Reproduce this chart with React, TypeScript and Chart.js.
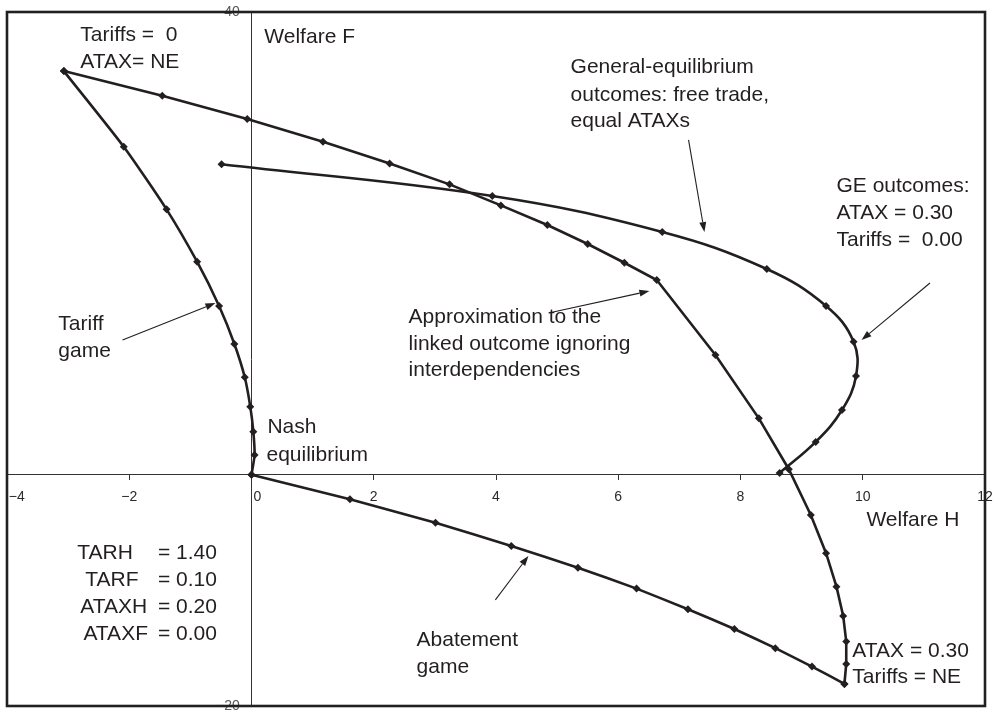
import React, { useEffect, useRef } from "react";
import { Chart, registerables } from "chart.js";

Chart.register(...registerables);

// ---- data (Welfare H, Welfare F) ----
const tariffGame: [number, number][] = [
  [0, 0], [0.05, 1.7], [0.03, 3.72], [-0.02, 5.88], [-0.11, 8.42], [-0.28, 11.3],
  [-0.53, 14.58], [-0.89, 18.41], [-1.39, 22.94], [-2.09, 28.35], [-3.07, 34.89],
];
const approximationLinked: [number, number][] = [
  [-3.07, 34.89], [-1.46, 32.76], [-0.07, 30.74], [1.17, 28.78], [2.26, 26.91],
  [3.24, 25.1], [4.08, 23.28], [4.84, 21.58], [5.5, 19.94], [6.1, 18.32],
  [6.63, 16.83], [7.59, 10.35], [8.3, 4.87], [8.79, 0.47], [9.15, -3.48],
  [9.4, -6.79], [9.57, -9.68], [9.68, -12.21], [9.73, -14.43], [9.73, -16.36], [9.7, -18.09],
];
const abatementGame: [number, number][] = [
  [0, 0], [1.61, -2.13], [3.01, -4.15], [4.25, -6.16], [5.34, -8.04], [6.3, -9.85],
  [7.14, -11.63], [7.9, -13.34], [8.57, -15.0], [9.17, -16.59], [9.7, -18.09],
];
const geOutcomes: [number, number][] = [
  [-0.49, 26.83], [3.94, 24.09], [6.72, 20.98], [8.43, 17.78], [9.4, 14.58],
  [9.85, 11.5], [9.89, 8.53], [9.66, 5.59], [9.23, 2.83], [8.64, 0.15],
];

const X_MIN = -4, X_MAX = 12, X_STEP = 2;
const Y_MIN = -20, Y_MAX = 40;

// text annotations: [text, x, y] in data units (left-aligned, vertically centred)
const labels: [string, number, number][] = [
  ["Tariffs =  0", -2.8, 38.0],
  ["ATAX= NE", -2.8, 35.67],
  ["Welfare F", 0.21, 37.8],
  ["General-equilibrium", 5.22, 35.2],
  ["outcomes: free trade,", 5.22, 32.8],
  ["equal ATAXs", 5.22, 30.6],
  ["GE outcomes:", 9.57, 24.95],
  ["ATAX = 0.30", 9.57, 22.6],
  ["Tariffs =  0.00", 9.57, 20.3],
  ["Tariff", -3.16, 13.0],
  ["game", -3.16, 10.7],
  ["Approximation to the", 2.57, 13.63],
  ["linked outcome ignoring", 2.57, 11.3],
  ["interdependencies", 2.57, 9.05],
  ["Nash", 0.26, 4.12],
  ["equilibrium", 0.245, 1.7],
  ["Welfare H", 10.06, -3.92],
  ["TARH", -2.85, -6.78],
  ["TARF", -2.72, -9.11],
  ["ATAXH", -2.80, -11.45],
  ["ATAXF", -2.75, -13.78],
  ["= 1.40", -1.53, -6.78],
  ["= 0.10", -1.53, -9.11],
  ["= 0.20", -1.53, -11.45],
  ["= 0.00", -1.53, -13.78],
  ["Abatement", 2.7, -14.29],
  ["game", 2.7, -16.62],
  ["ATAX = 0.30", 9.83, -15.24],
  ["Tariffs = NE", 9.83, -17.49],
];

// arrows: [fromX, fromY, toX, toY] in data units
const arrows: [number, number, number, number][] = [
  [7.15, 28.94, 7.41, 20.97],
  [11.1, 16.57, 9.98, 11.64],
  [-2.11, 11.64, -0.59, 14.84],
  [4.86, 13.98, 6.51, 15.88],
  [3.99, -10.83, 4.53, -7.03],
];

const INK = "#231f20";
const FONT = '"Liberation Sans", Arial, Helvetica, sans-serif';

const annotationPlugin = {
  id: "annotations",
  afterDraw(chart: any) {
    const { ctx, chartArea, scales } = chart;
    const xs = scales.x, ys = scales.y;
    ctx.save();
    ctx.fillStyle = INK;
    ctx.font = `21px ${FONT}`;
    ctx.textBaseline = "middle";
    ctx.textAlign = "left";
    for (const [t, x, y] of labels) {
      ctx.fillText(t, xs.getPixelForValue(x), ys.getPixelForValue(y));
    }
    ctx.strokeStyle = INK;
    ctx.lineWidth = 1.1;
    for (const [fx, fy, tx, ty] of arrows) {
      const x1 = xs.getPixelForValue(fx), y1 = ys.getPixelForValue(fy);
      const x2 = xs.getPixelForValue(tx), y2 = ys.getPixelForValue(ty);
      const ang = Math.atan2(y2 - y1, x2 - x1);
      const hl = 10, hw = 3.5;
      const bx = x2 - hl * Math.cos(ang), by = y2 - hl * Math.sin(ang);
      ctx.beginPath();
      ctx.moveTo(x1, y1);
      ctx.lineTo(bx, by);
      ctx.stroke();
      ctx.beginPath();
      ctx.moveTo(x2, y2);
      ctx.lineTo(bx + hw * Math.sin(ang), by - hw * Math.cos(ang));
      ctx.lineTo(bx - hw * Math.sin(ang), by + hw * Math.cos(ang));
      ctx.closePath();
      ctx.fill();
    }
    ctx.lineWidth = 2.6;
    ctx.strokeRect(chartArea.left, chartArea.top, chartArea.width, chartArea.height);
    ctx.restore();
  },
};

const toPts = (arr: [number, number][]) => arr.map(([x, y]) => ({ x, y }));

const seriesStyle = (tension: number) => ({
  showLine: true,
  borderColor: INK,
  backgroundColor: INK,
  borderWidth: 2.6,
  pointStyle: "rectRot" as const,
  pointRadius: 4,
  pointBackgroundColor: INK,
  pointBorderColor: INK,
  pointBorderWidth: 0,
  tension,
});

const zeroPad = (s: any) => {
  s.paddingLeft = 0;
  s.paddingRight = 0;
  s.paddingTop = 0;
  s.paddingBottom = 0;
};

export default function App() {
  const ref = useRef<HTMLCanvasElement | null>(null);
  useEffect(() => {
    if (!ref.current) return;
    const chart = new Chart(ref.current, {
      type: "scatter",
      data: {
        datasets: [
          { label: "Tariff game", data: toPts(tariffGame), ...seriesStyle(0.2) },
          { label: "Approximation", data: toPts(approximationLinked), ...seriesStyle(0) },
          { label: "Abatement game", data: toPts(abatementGame), ...seriesStyle(0.1) },
          { label: "GE outcomes", data: toPts(geOutcomes), ...seriesStyle(0.4) },
        ],
      },
      options: {
        animation: false,
        responsive: true,
        maintainAspectRatio: false,
        layout: { padding: { left: 7, top: 12, right: 10, bottom: 4 } },
        plugins: { legend: { display: false }, tooltip: { enabled: false } },
        scales: {
          x: {
            type: "linear",
            min: X_MIN,
            max: X_MAX,
            position: { y: 0 } as any,
            afterFit: (s: any) => { s.height = 0; zeroPad(s); },
            border: { display: true, color: "#333", width: 1 },
            grid: { display: true, drawOnChartArea: false, drawTicks: true, tickLength: 5, tickColor: "#333", tickWidth: 1 },
            ticks: {
              stepSize: X_STEP,
              autoSkip: false,
              maxRotation: 0,
              padding: 9,
              color: "#2a2a2a",
              font: { family: FONT, size: 14 },
              callback: (v: any) => {
                const n = Number(v);
                if (n === X_MIN) return "     \u2212" + Math.abs(n);
                if (n === 0) return "   0";
                return n < 0 ? "\u2212" + Math.abs(n) : String(n);
              },
            },
          },
          y: {
            type: "linear",
            min: Y_MIN,
            max: Y_MAX,
            position: { x: 0 } as any,
            afterFit: (s: any) => { s.width = 0; zeroPad(s); },
            border: { display: true, color: "#333", width: 1 },
            grid: { display: true, drawOnChartArea: false, drawTicks: false },
            ticks: {
              stepSize: Y_MAX - Y_MIN,
              autoSkip: false,
              padding: 10,
              color: "#555",
              font: { family: FONT, size: 14 },
              callback: (v: any) => {
                const n = Number(v);
                return (n < 0 ? "\u2212" + Math.abs(n) : String(n)) + "   ";
              },
            },
          },
        },
      },
      plugins: [annotationPlugin],
    });
    return () => chart.destroy();
  }, []);
  return (
    <div style={{ position: "absolute", left: 0, top: 0, width: 995, height: 710, background: "#fff" }}>
      <canvas ref={ref} />
    </div>
  );
}
